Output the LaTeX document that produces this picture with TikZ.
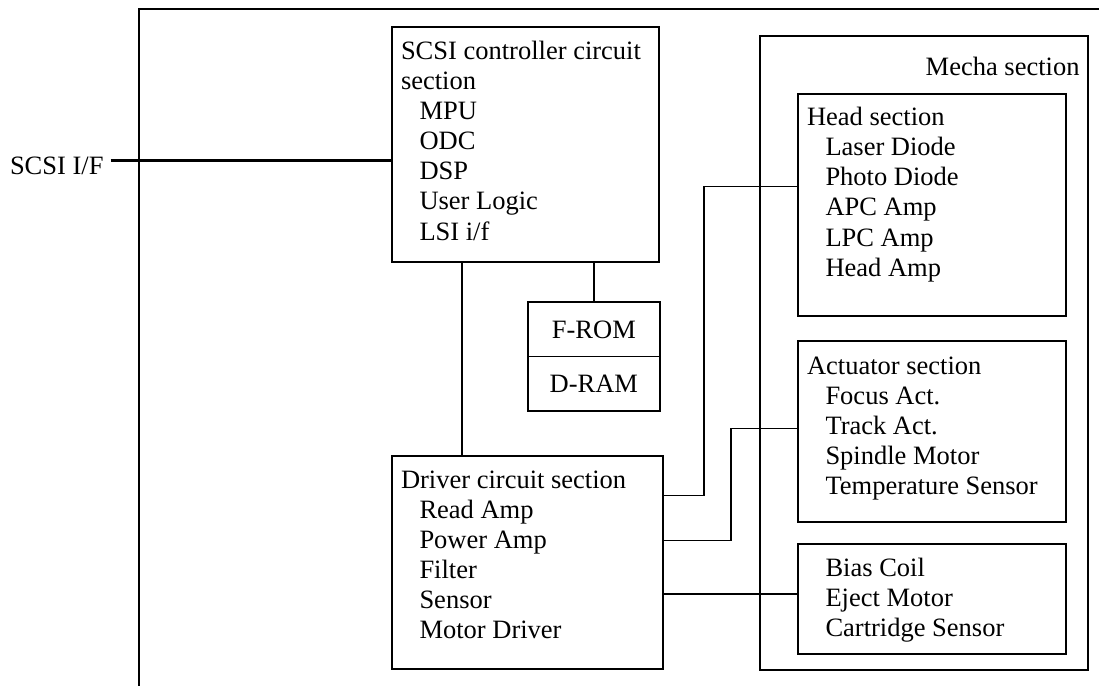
\documentclass[tikz,border=0pt]{standalone}
\usepackage{fontspec}
\setmainfont{Liberation Serif}
\begin{document}
\begin{tikzpicture}[x=1bp,y=-1bp,
  box/.style={draw,line width=1.8bp,rectangle,inner sep=0pt,outer sep=0pt,anchor=north west},
  txt/.style={inner sep=0pt,outer sep=0pt,anchor=base west,font=\fontsize{26.5bp}{30bp}\selectfont},
  ctxt/.style={inner sep=0pt,outer sep=0pt,font=\fontsize{26.5bp}{30bp}\selectfont},
  wire/.style={line width=1.6bp},
  frame/.style={line width=1.9bp},
  bus/.style={line width=3.8bp}]
\useasboundingbox (0,0) rectangle (1099,686);

% outer frame (open to the right and bottom)
\draw[frame] (1099,9) -- (139.3,9) -- (139.3,686);

% boxes
\node[box,minimum width=267bp,minimum height=235.6bp] (scsi) at (392,26.7) {};
\node[box,minimum width=132.3bp,minimum height=54.2bp] (from) at (527.7,302.3) {};
\node[box,minimum width=132.3bp,minimum height=54.5bp] (dram) at (527.7,356.5) {};
\node[box,minimum width=271.3bp,minimum height=212.7bp] (drv) at (392,456) {};
\node[box,minimum width=327.7bp,minimum height=634.6bp] (mecha) at (760.3,35.7) {};
\node[box,minimum width=268bp,minimum height=221.7bp] (head) at (798,94) {};
\node[box,minimum width=268bp,minimum height=181.3bp] (act) at (798,340.7) {};
\node[box,minimum width=268bp,minimum height=110bp] (bias) at (798,544.3) {};

% SCSI controller text
\node[txt] (s1) at (401,60) {SCSI controller circuit};
\node[txt] (s2) at (401,90) {section};
\node[txt] (s3) at (419.5,120) {MPU};
\node[txt] (s4) at (419.5,150) {ODC};
\node[txt] (s5) at (419.5,180) {DSP};
\node[txt] (s6) at (419.5,210) {User Logic};
\node[txt] (s7) at (419.5,240) {LSI i/f};

% memory text
\node[ctxt] (t-from) at (from.center) {F-ROM};
\node[ctxt] (t-dram) at (dram.center) {D-RAM};

% driver text
\node[txt] (d1) at (401,488) {Driver circuit section};
\node[txt] (d2) at (419.5,518) {Read Amp};
\node[txt] (d3) at (419.5,548) {Power Amp};
\node[txt] (d4) at (419.5,578) {Filter};
\node[txt] (d5) at (419.5,608) {Sensor};
\node[txt] (d6) at (419.5,638) {Motor Driver};

% mecha text
\node[txt,anchor=base east] (m0) at (1079.5,76) {Mecha section};
\node[txt] (h1) at (807,126) {Head section};
\node[txt] (h2) at (825.5,156) {Laser Diode};
\node[txt] (h3) at (825.5,186) {Photo Diode};
\node[txt] (h4) at (825.5,216) {APC Amp};
\node[txt] (h5) at (825.5,246) {LPC Amp};
\node[txt] (h6) at (825.5,276) {Head Amp};

\node[txt] (a1) at (807,374) {Actuator section};
\node[txt] (a2) at (825.5,404) {Focus Act.};
\node[txt] (a3) at (825.5,434) {Track Act.};
\node[txt] (a4) at (825.5,464) {Spindle Motor};
\node[txt] (a5) at (825.5,494) {Temperature Sensor};

\node[txt] (b1) at (825.5,576) {Bias Coil};
\node[txt] (b2) at (825.5,606) {Eject Motor};
\node[txt] (b3) at (825.5,636) {Cartridge Sensor};

% SCSI I/F
\node[txt] (sif) at (10,175) {SCSI I/F};
\coordinate (sifend) at (110.5,160.5);
\draw[bus] (sifend) -- (scsi.west |- sifend);

% helper coordinates
\coordinate (xa) at (462,0);
\coordinate (y1) at (0,495.3);
\coordinate (y1b) at (703.8,186.7);
\coordinate (y2) at (0,540.3);
\coordinate (y2b) at (731,428.3);
\coordinate (y3) at (0,593.7);

% connectors
\draw[wire] (scsi.south -| xa) -- (drv.north -| xa);
\draw[wire] (scsi.south -| from.north) -- (from.north);
\draw[wire] (drv.east |- y1) -| (y1b) -- (head.west |- y1b);
\draw[wire] (drv.east |- y2) -| (y2b) -- (act.west |- y2b);
\draw[wire] (drv.east |- y3) -- (bias.west |- y3);
\end{tikzpicture}
\end{document}
